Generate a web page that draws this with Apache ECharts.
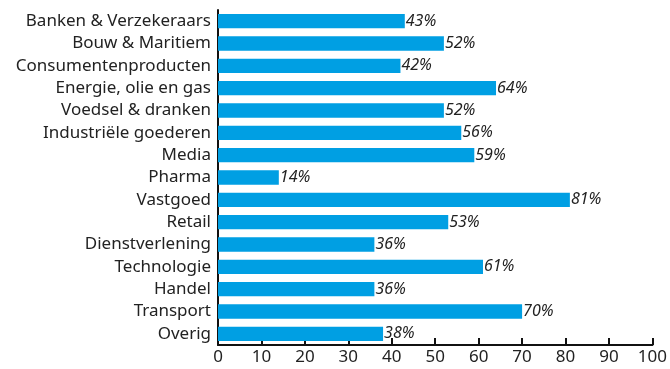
<!DOCTYPE html>
<html>
<head>
<meta charset="utf-8">
<script src="https://cdn.jsdelivr.net/npm/echarts@6/dist/echarts.min.js"></script>
<style>
  html, body { margin: 0; padding: 0; background: #fff; }
  #chart { width: 670px; height: 369px; }
</style>
</head>
<body>
<div id="chart"></div>
<script>
const categories = [
  'Banken & Verzekeraars', 'Bouw & Maritiem', 'Consumentenproducten',
  'Energie, olie en gas', 'Voedsel & dranken', 'Industriële goederen',
  'Media', 'Pharma', 'Vastgoed', 'Retail', 'Dienstverlening',
  'Technologie', 'Handel', 'Transport', 'Overig'
];
const values = [43, 52, 42, 64, 52, 56, 59, 14, 81, 53, 36, 61, 36, 70, 38];
const xTicks = [0, 10, 20, 30, 40, 50, 60, 70, 80, 90, 100];

const chart = echarts.init(document.getElementById('chart'));
chart.setOption({
  animation: false,
  grid: { left: 218, right: 16, top: 10, bottom: 24, containLabel: false },
  xAxis: {
    type: 'value',
    min: xTicks[0],
    max: xTicks[xTicks.length - 1],
    interval: 10,
    axisLine: { show: true, lineStyle: { color: '#111', width: 2 } },
    axisTick: { show: true, inside: true, length: 7, lineStyle: { color: '#111', width: 2 } },
    splitLine: { show: false },
    axisLabel: { color: '#222', fontSize: 17, fontFamily: 'Noto Sans', margin: 4 }
  },
  yAxis: {
    type: 'category',
    data: categories,
    inverse: true,
    axisLine: { show: true, lineStyle: { color: '#111', width: 2 } },
    axisTick: { show: false },
    axisLabel: { color: '#222', fontSize: 17, fontFamily: 'Noto Sans', margin: 7 }
  },
  series: [{
    type: 'bar',
    data: values,
    barWidth: '64%',
    itemStyle: { color: '#009FE3' },
    label: {
      show: true,
      position: 'right',
      distance: 1,
      formatter: '{c}%',
      color: '#222',
      fontSize: 16,
      fontFamily: 'Noto Sans',
      fontStyle: 'italic'
    }
  }]
});
</script>
</body>
</html>
